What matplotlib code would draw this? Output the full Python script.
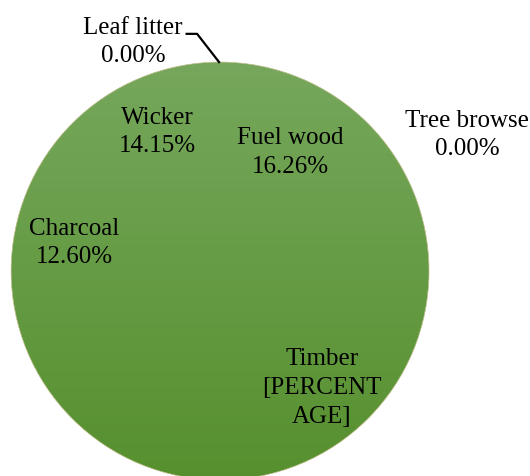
import matplotlib
matplotlib.use("Agg")
import matplotlib.pyplot as plt
import numpy as np
from matplotlib.patches import Circle
from matplotlib.colors import LinearSegmentedColormap

# data, clockwise from 12 o'clock
categories = ['Fuel wood', 'Tree browse', 'Timber', 'Charcoal', 'Wicker', 'Leaf litter']
shares = [16.26, 0.00, 56.99, 12.60, 14.15, 0.00]
label_texts = ['Fuel wood\n16.26%', 'Tree browse\n0.00%', 'Timber\n[PERCENT\nAGE]',
               'Charcoal\n12.60%', 'Wicker\n14.15%', 'Leaf litter\n0.00%']
# label centres (in pie radius units), as placed in the original
label_xy = [(0.335, 0.569), (1.182, 0.651), (0.488, -0.560),
            (-0.699, 0.134), (-0.301, 0.665), (-0.416, 1.096)]

plt.rcParams['font.family'] = ['Liberation Serif', 'DejaVu Serif']

fig = plt.figure(figsize=(5.30, 4.76), dpi=100)
ax = fig.add_axes([0, 0, 1, 1])

wedges, _ = ax.pie(shares, startangle=90, counterclock=False, radius=1.0,
                   colors=['#68a048'] * len(shares),
                   wedgeprops=dict(linewidth=0))

# vertical gradient fill like the original
cmap = LinearSegmentedColormap.from_list('g', ['#56902e', '#76a75c'])
grad = np.linspace(0, 1, 256).reshape(-1, 1)
im = ax.imshow(grad, cmap=cmap, extent=(-1, 1, -1, 1), origin='lower',
               aspect='auto', zorder=2)
im.set_clip_path(Circle((0, 0), 1.0, transform=ax.transData))
ax.add_patch(Circle((0, 0), 1.0, fill=False, edgecolor='#d0c8a0', linewidth=0.5, zorder=3))

for txt, (x, y) in zip(label_texts, label_xy):
    ax.text(x, y, txt, ha='center', va='center', fontsize=18, linespacing=1.4,
            color='black', zorder=4)

# leader line for Leaf litter
ax.plot([-0.16, -0.11, -0.005], [1.135, 1.135, 1.0], color='black', linewidth=1.6, zorder=4)

ax.set_xlim(-1.053, 1.483)
ax.set_ylim(-0.981, 1.297)
ax.set_aspect('equal')
ax.axis('off')

fig.savefig('out.png', dpi=100)
